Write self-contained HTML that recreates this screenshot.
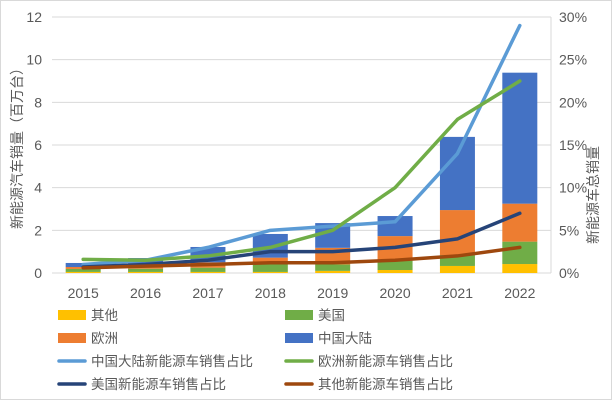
<!DOCTYPE html>
<html><head><meta charset="utf-8"><style>
body{margin:0;background:#fff}
svg{display:block;font-family:"Liberation Sans","Noto Sans CJK SC",sans-serif}
</style></head><body>
<svg id="c" width="612" height="400">
<rect x="0.5" y="0.5" width="611" height="399" fill="#fff" stroke="#d9d9d9"/>
<g id="grid"></g><g id="bars"></g><g id="lines"></g><g id="axes"></g>
<text transform="translate(22,145) rotate(-90)" text-anchor="middle" font-size="14" fill="#595959">新能源汽车销量（百万台）</text>
<text transform="translate(598,195) rotate(-90)" text-anchor="middle" font-size="14" fill="#595959">新能源车总销量</text>
<g id="legend"></g>
</svg>
<script>
const years=["2015","2016","2017","2018","2019","2020","2021","2022"];
const other=[0.05,0.05,0.05,0.05,0.1,0.14,0.33,0.42];
const us=[0.14,0.15,0.2,0.4,0.3,0.44,0.51,1.05];
const europe=[0.09,0.25,0.25,0.27,0.78,1.15,2.11,1.78];
const china=[0.19,0.25,0.72,1.11,1.16,0.94,3.43,6.14];
const chinaShare=[1,1.5,3,5,5.5,6,14,29];
const europeShare=[1.6,1.5,2,3,5,10,18,22.5];
const usShare=[0.7,1,1.5,2.5,2.5,3,4,7];
const otherShare=[0.6,0.8,1,1.2,1.2,1.5,2,3];
const leftTicks=[0,2,4,6,8,10,12];
const rightTicks=[0,5,10,15,20,25,30];
const NS="http://www.w3.org/2000/svg";
const L=52,R=551,T=17,B=273;
const x=i=>L+(R-L)/years.length*(i+0.5);
const yL=v=>B-(B-T)*v/12;
const yR=v=>B-(B-T)*v/30;
function el(tag,attrs,parent,text){const e=document.createElementNS(NS,tag);for(const k in attrs)e.setAttribute(k,attrs[k]);if(text!=null)e.textContent=text;document.getElementById(parent)?document.getElementById(parent).appendChild(e):parent.appendChild(e);return e;}
leftTicks.forEach((t,i)=>{
  const g=el("line",{x1:L,x2:R,y1:yL(t),y2:yL(t),stroke:"#d9d9d9","stroke-width":1},"grid");
  
  
  const a=el("text",{x:L-10,y:yL(t)+5,"text-anchor":"end","font-size":14,fill:"#595959"},"axes",String(t));
  
  
});
rightTicks.forEach(t=>{
  const a=el("text",{x:R+8,y:yR(t)+5,"font-size":14,fill:"#595959"},"axes",t+"%");
  
  
});
const ax=el("line",{x1:R,x2:R,y1:T,y2:B,stroke:"#d9d9d9"},"axes");


years.forEach((yr,i)=>{
  const a=el("text",{x:x(i),y:298,"text-anchor":"middle","font-size":14,fill:"#595959"},"axes",yr);
  
  
});
const series=[[other,"#ffc000","other"],[us,"#70ad47","us"],[europe,"#ed7d31","europe"],[china,"#4472c4","china"]];
const bw=35;
years.forEach((yr,i)=>{
  let base=0;
  series.forEach(([arr,col,nm])=>{
    const r=el("rect",{x:x(i)-bw/2,y:yL(base+arr[i]),width:bw,height:yL(base)-yL(base+arr[i]),fill:col},"bars");
    
    
    base+=arr[i];
  });
});
const lines=[[chinaShare,"#5b9bd5","china-share"],[europeShare,"#70ad47","europe-share"],[usShare,"#264478","us-share"],[otherShare,"#9e480e","other-share"]];
lines.forEach(([arr,col,nm])=>{
  const p=el("polyline",{points:arr.map((v,i)=>x(i)+","+yR(v)).join(" "),fill:"none",stroke:col,"stroke-width":3.5,"stroke-linejoin":"round","stroke-linecap":"round"},"lines");
  
  
});
const leg=[["其他","#ffc000","rect"],["美国","#70ad47","rect"],["欧洲","#ed7d31","rect"],["中国大陆","#4472c4","rect"],["中国大陆新能源车销售占比","#5b9bd5","line"],["欧洲新能源车销售占比","#70ad47","line"],["美国新能源车销售占比","#264478","line"],["其他新能源车销售占比","#9e480e","line"]];
leg.forEach(([t,c,k],i)=>{
  const col=i%2,row=Math.floor(i/2);
  const sx=col?285:58,cy=315+row*23;
  let s;
  if(k==="rect")s=el("rect",{x:sx,y:cy-5,width:28,height:10,fill:c},"legend");
  else s=el("line",{x1:sx+1,x2:sx+27,y1:cy,y2:cy,stroke:c,"stroke-width":3.5,"stroke-linecap":"round"},"legend");
  
  
  const tx=el("text",{x:sx+33,y:cy+5,"font-size":13.5,fill:"#595959"},"legend",t);
  
  
});
</script>
</body></html>
